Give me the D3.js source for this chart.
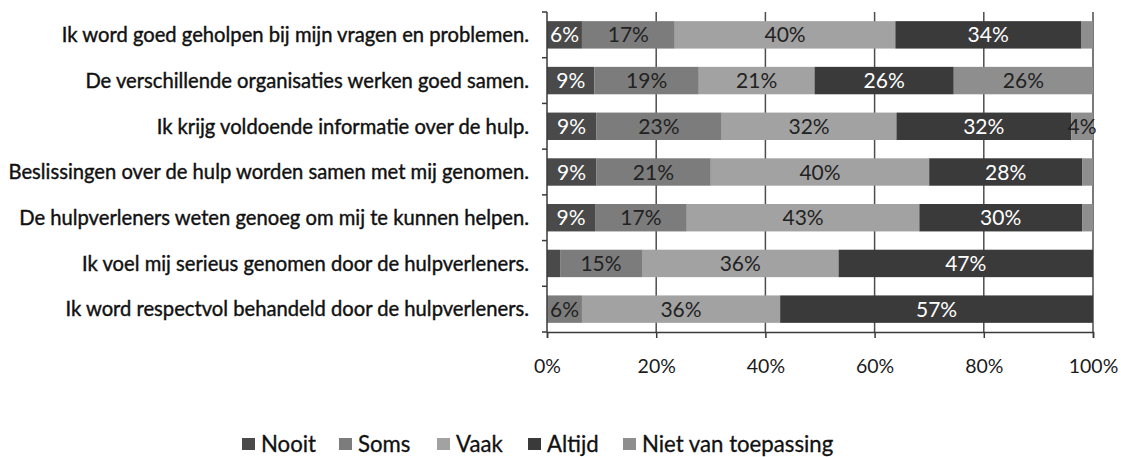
<!DOCTYPE html>
<html>
<head>
<meta charset="utf-8">
<script src="https://cdn.jsdelivr.net/npm/d3@7"></script>
<style>
  body { margin: 0; background: #fff; }
  svg text { font-family: Lato, "Open Sans", sans-serif; }
</style>
</head>
<body>
<div id="chart"></div>
<script>
// statements, top to bottom
var statements = [
  "Ik word goed geholpen bij mijn vragen en problemen.",
  "De verschillende organisaties werken goed samen.",
  "Ik krijg voldoende informatie over de hulp.",
  "Beslissingen over de hulp worden samen met mij genomen.",
  "De hulpverleners weten genoeg om mij te kunnen helpen.",
  "Ik voel mij serieus genomen door de hulpverleners.",
  "Ik word respectvol behandeld door de hulpverleners."
];

var series = ["Nooit", "Soms", "Vaak", "Altijd", "Niet van toepassing"];

// percentages per series, same order as statements
var nooit  = [6.4, 8.7, 9, 9, 8.8, 2.4, 0];
var soms   = [17, 19.1, 23, 21, 16.8, 15, 6.4];
var vaak   = [40.4, 21.2, 32, 40, 42.6, 36, 36.3];
var altijd = [34, 25.5, 32, 28, 29.8, 46.6, 57.3];
var nvt    = [2.2, 25.5, 4, 2, 2, 0, 0];

var xTicks = [0, 20, 40, 60, 80, 100];

var colors = ["#4a4a4a", "#7c7c7c", "#a2a2a2", "#3a3a3a", "#8e8e8e"];
var labelColors = ["#fff", "#222", "#222", "#fff", "#222"];

var width = 1121, height = 457;
var margin = {top: 12, right: 28, bottom: 125, left: 547};

var rows = statements.map(function(s, i) {
  return {name: s, Nooit: nooit[i], Soms: soms[i], Vaak: vaak[i], Altijd: altijd[i], "Niet van toepassing": nvt[i]};
});
var stacked = d3.stack().keys(series)(rows);

var x = d3.scaleLinear().domain([0, 100]).range([margin.left, width - margin.right]);
var y = d3.scaleBand().domain(statements)
    .range([margin.top, height - margin.bottom])
    .paddingInner(0.4).paddingOuter(0.2);

var svg = d3.select("#chart").append("svg")
    .attr("width", width)
    .attr("height", height);

// gridlines
svg.append("g")
    .selectAll("line")
    .data(xTicks.slice(1))
    .enter().append("line")
    .attr("x1", function(d) { return x(d); })
    .attr("x2", function(d) { return x(d); })
    .attr("y1", margin.top)
    .attr("y2", height - margin.bottom)
    .attr("stroke", "#4d4d4d")
    .attr("stroke-width", 1.5);

// bars
var layer = svg.append("g").selectAll("g")
    .data(stacked)
    .enter().append("g")
    .attr("fill", function(d, i) { return colors[i]; });

layer.selectAll("rect")
    .data(function(d) { return d; })
    .enter().append("rect")
    .attr("x", function(d) { return x(d[0]); })
    .attr("width", function(d) { return x(d[1]) - x(d[0]); })
    .attr("y", function(d) { return y(d.data.name); })
    .attr("height", y.bandwidth());

// value labels
stacked.forEach(function(s, i) {
  svg.append("g").selectAll("text")
    .data(s.filter(function(d) { return d[1] - d[0] >= 3.5; }))
    .enter().append("text")
    .attr("x", function(d) { return x((d[0] + d[1]) / 2); })
    .attr("y", function(d) { return y(d.data.name) + y.bandwidth() / 2; })
    .attr("dy", "0.36em")
    .attr("text-anchor", "middle")
    .style("font-size", "21px")
    .style("fill", labelColors[i])
    .text(function(d) { return Math.round(d[1] - d[0]) + "%"; });
});

// y axis
var yAxis = svg.append("g")
    .attr("transform", "translate(" + margin.left + ",0)");
yAxis.append("line")
    .attr("x1", 0).attr("x2", 0)
    .attr("y1", margin.top).attr("y2", height - margin.bottom)
    .attr("stroke", "#3a3a3a").attr("stroke-width", 1.5);
var step = y.step();
yAxis.selectAll(".ytick")
    .data(d3.range(statements.length + 1))
    .enter().append("line")
    .attr("x1", -5).attr("x2", 0)
    .attr("y1", function(d) { return margin.top + d * step; })
    .attr("y2", function(d) { return margin.top + d * step; })
    .attr("stroke", "#3a3a3a").attr("stroke-width", 1.5);

svg.append("g").selectAll("text")
    .data(statements)
    .enter().append("text")
    .attr("x", 529)
    .attr("y", function(d) { return y(d) + y.bandwidth() / 2; })
    .attr("dy", "0.36em")
    .attr("text-anchor", "end")
    .style("font-size", "20.2px")
    .style("fill", "#111")
    .style("stroke", "#111")
    .style("stroke-width", 0.4)
    .text(function(d) { return d; });

// x axis
var xAxis = svg.append("g")
    .attr("transform", "translate(0," + (height - margin.bottom) + ")")
    .call(d3.axisBottom(x).tickValues(xTicks).tickSize(6).tickPadding(21)
      .tickFormat(function(d) { return d + "%"; }));
xAxis.select(".domain").attr("stroke", "#3a3a3a").attr("stroke-width", 1.5);
xAxis.selectAll(".tick line").attr("stroke", "#3a3a3a").attr("stroke-width", 1.5);
xAxis.selectAll(".tick text")
    .style("font-size", "19.5px")
    .style("font-family", "Lato, 'Open Sans', sans-serif")
    .style("fill", "#1a1a1a");

// legend
var legendX = [242, 339, 437, 528, 623];
var legend = svg.append("g").selectAll("g")
    .data(series)
    .enter().append("g")
    .attr("transform", function(d, i) { return "translate(" + legendX[i] + ",438)"; });
legend.append("rect")
    .attr("width", 13).attr("height", 12)
    .attr("fill", function(d, i) { return colors[i]; });
legend.append("text")
    .attr("x", 19)
    .attr("y", 6)
    .attr("dy", "0.36em")
    .style("font-size", "22.2px")
    .style("fill", "#111")
    .style("stroke", "#111")
    .style("stroke-width", 0.3)
    .text(function(d) { return d; });
</script>
</body>
</html>
